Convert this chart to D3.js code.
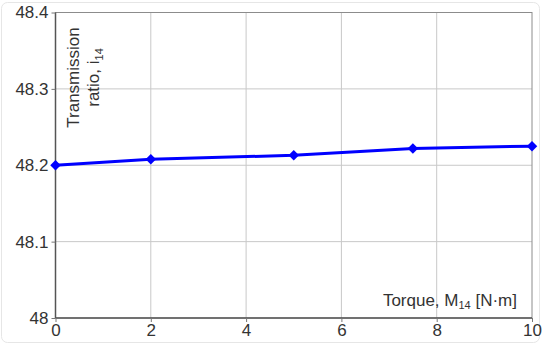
<!DOCTYPE html>
<html>
<head>
<meta charset="utf-8">
<script src="https://cdn.jsdelivr.net/npm/d3@7"></script>
<style>
  body { margin: 0; background: #fff; }
  svg { font-family: "Liberation Sans", Arial, sans-serif; }
</style>
</head>
<body>
<svg id="chart" width="543" height="345"></svg>
<script>
// data
const torque = [0, 2, 5, 7.5, 10];
const ratio = [48.2, 48.208, 48.213, 48.222, 48.225];
const xTicks = [0, 2, 4, 6, 8, 10];
const yTicks = [48, 48.1, 48.2, 48.3, 48.4];

const svg = d3.select('#chart');
const margin = { left: 55.5, right: 11, top: 12.5, bottom: 27 };
const W = 543, H = 345;

const x = d3.scaleLinear().domain([0, 10]).range([margin.left, W - margin.right]);
const y = d3.scaleLinear().domain([48, 48.4]).range([H - margin.bottom, margin.top]);

// faint outer frame
svg.append('rect')
  .attr('x', 1.5).attr('y', 2.5).attr('width', W - 5).attr('height', H - 5)
  .attr('rx', 6).attr('fill', 'none').attr('stroke', '#e6e6e6');

// grid
svg.append('g').selectAll('line').data(xTicks.slice(1, -1)).join('line')
  .attr('x1', d => x(d)).attr('x2', d => x(d))
  .attr('y1', y(48.4)).attr('y2', y(48))
  .attr('stroke', '#c8c8c8').attr('stroke-width', 1);
svg.append('g').selectAll('line').data(yTicks.slice(1, -1)).join('line')
  .attr('x1', x(0)).attr('x2', x(10))
  .attr('y1', d => y(d)).attr('y2', d => y(d))
  .attr('stroke', '#c8c8c8').attr('stroke-width', 1);

// plot border
svg.append('rect')
  .attr('x', x(0)).attr('y', y(48.4))
  .attr('width', x(10) - x(0)).attr('height', y(48) - y(48.4))
  .attr('fill', 'none').attr('stroke', '#8c8c8c').attr('stroke-width', 1);
// darker left & bottom axis lines
svg.append('line').attr('x1', x(0)).attr('x2', x(0)).attr('y1', y(48.4)).attr('y2', y(48))
  .attr('stroke', '#555').attr('stroke-width', 1.5);
svg.append('line').attr('x1', x(0)).attr('x2', x(10)).attr('y1', y(48)).attr('y2', y(48))
  .attr('stroke', '#555').attr('stroke-width', 1.5);

// axes
const fmtY = d => d === 48 ? '48' : d3.format('.1f')(d);
const yAxis = svg.append('g').attr('transform', `translate(${x(0)},0)`)
  .call(d3.axisLeft(y).tickValues(yTicks).tickFormat(fmtY).tickSize(4).tickPadding(3));
const xAxis = svg.append('g').attr('transform', `translate(0,${y(48)})`)
  .call(d3.axisBottom(x).tickValues(xTicks).tickSize(4).tickPadding(2));
[yAxis, xAxis].forEach(g => {
  g.select('.domain').remove();
  g.selectAll('line').attr('stroke', '#777');
  g.selectAll('text').attr('fill', '#333').style('font-size', '17px')
    .style('font-family', '"Liberation Sans", Arial, sans-serif');
});

// series
const pts = torque.map((t, i) => [t, ratio[i]]);
svg.append('path').datum(pts)
  .attr('fill', 'none').attr('stroke', '#0000ff').attr('stroke-width', 3)
  .attr('d', d3.line().x(d => x(d[0])).y(d => y(d[1])));
svg.append('g').selectAll('path').data(pts).join('path')
  .attr('transform', d => `translate(${x(d[0])},${y(d[1])})`)
  .attr('d', d3.symbol(d3.symbolDiamond2, 70))
  .attr('fill', '#0000ff');

// y label (inside plot, rotated)
const yl = svg.append('text')
  .attr('transform', `translate(78.5,77.5) rotate(-90)`)
  .attr('text-anchor', 'middle').attr('fill', '#333').style('font-size', '17px');
yl.append('tspan').attr('x', 0).attr('dy', 0).text('Transmission');
yl.append('tspan').attr('x', 0).attr('dy', 20).text('ratio, i');
yl.append('tspan').attr('dy', 4).style('font-size', '11px').text('14');

// x label
const xl = svg.append('text')
  .attr('x', 517).attr('y', 306)
  .attr('text-anchor', 'end').attr('fill', '#333').style('font-size', '17px');
xl.append('tspan').text('Torque, M');
xl.append('tspan').attr('dy', 3).style('font-size', '11px').text('14');
xl.append('tspan').attr('dy', -3).text(' [N·m]');
</script>
</body>
</html>
